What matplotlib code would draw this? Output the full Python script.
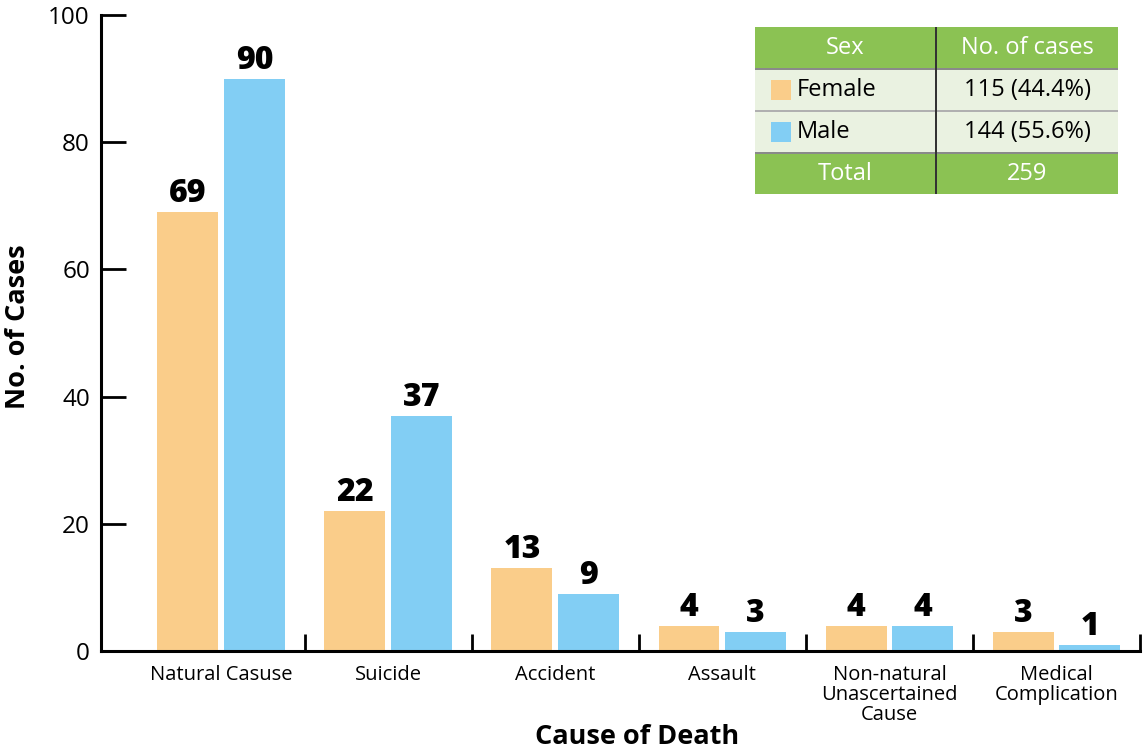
import numpy as np
import matplotlib
matplotlib.use("Agg")
import matplotlib.pyplot as plt
from matplotlib.patches import Rectangle

plt.rcParams['font.family'] = ['Open Sans', 'DejaVu Sans']

causes = ["Natural Casuse", "Suicide", "Accident", "Assault",
          "Non-natural\nUnascertained\nCause", "Medical\nComplication"]
female = [69, 22, 13, 4, 4, 3]
male = [90, 37, 9, 3, 4, 1]
yticks = [0, 20, 40, 60, 80, 100]

sexes = ["Female", "Male"]
sex_cases = ["115 (44.4%)", "144 (55.6%)"]
total = "259"

FEMALE_C = "#facd8a"
MALE_C = "#82cef4"
GREEN = "#8bc253"
PALE = "#eaf2e1"

W, H = 1145, 753
fig = plt.figure(figsize=(W / 100, H / 100), dpi=100)
ax = fig.add_axes([101 / W, 1 - 651 / H, (1140 - 101) / W, (651 - 15) / H])

x = np.arange(len(causes))
bw = 0.365
off = 0.2
ax.bar(x - off, female, bw, color=FEMALE_C)
ax.bar(x + off, male, bw, color=MALE_C)
for xi, f, m in zip(x, female, male):
    ax.text(xi - off, f + 0.3, str(f), ha="center", va="bottom",
            fontsize=23, fontweight="heavy")
    ax.text(xi + off, m + 0.3, str(m), ha="center", va="bottom",
            fontsize=23, fontweight="heavy")

ax.set_xlim(-0.72, 5.5)
ax.set_ylim(0, 100)
ax.set_yticks(yticks)
ax.tick_params(axis="y", direction="in", length=18, width=2, labelsize=17.5, pad=8)
ax.set_xticks(x)
ax.set_xticklabels(causes, fontsize=14.5, linespacing=1.02)
ax.tick_params(axis="x", length=0, pad=10)
ax.set_xticks(np.arange(len(causes)) + 0.5, minor=True)
ax.tick_params(axis="x", which="minor", direction="in", length=12, width=2)

for s in ["top", "right"]:
    ax.spines[s].set_visible(False)
for s in ["left", "bottom"]:
    ax.spines[s].set_linewidth(2.2)

ax.set_ylabel("No. of Cases", fontsize=19.5, fontweight="bold", va="center")
ax.yaxis.set_label_coords(-0.080, 0.51)
ax.set_xlabel("Cause of Death", fontsize=19.5, fontweight="bold", va="center")
ax.xaxis.set_label_coords(0.516, -0.135)


# summary table in pixel coordinates of the figure
def px(xp, yp):
    return xp / W, 1 - yp / H


def cell(x0, y0, x1, y1, color):
    fx, fy = px(x0, y1)
    fig.patches.append(Rectangle((fx, fy), (x1 - x0) / W, (y1 - y0) / H,
                                 transform=fig.transFigure, facecolor=color,
                                 edgecolor="none"))


tx0, tx1, tmid = 755, 1118, 936
rows = [(27, 69), (69, 111), (111, 153), (153, 194)]
for i, (y0, y1) in enumerate(rows):
    c = GREEN if i in (0, 3) else PALE
    cell(tx0, y0, tx1, y1, c)
for yl in [69, 111, 153]:
    cell(tx0, yl - 1, tx1, yl + 1, "#8a8a8a" if yl != 111 else "#b0b0b0")
cell(tmid - 1, 27, tmid + 1, 194, "#333333")


def ptext(xp, yp, s, color="black", ha="center"):
    fx, fy = px(xp, yp)
    fig.text(fx, fy, s, ha=ha, va="center", fontsize=17, color=color)


ptext((tx0 + tmid) / 2, 48, "Sex", "white")
ptext((tmid + tx1) / 2, 48, "No. of cases", "white")
for i, (s, n) in enumerate(zip(sexes, sex_cases)):
    yc = (rows[i + 1][0] + rows[i + 1][1]) / 2
    cell(771, yc - 10, 791, yc + 10, [FEMALE_C, MALE_C][i])
    ptext(797, yc, s, ha="left")
    ptext((tmid + tx1) / 2, yc, n)
ptext((tx0 + tmid) / 2, 174, "Total", "white")
ptext((tmid + tx1) / 2, 174, total, "white")

fig.savefig("out.png", dpi=100)
